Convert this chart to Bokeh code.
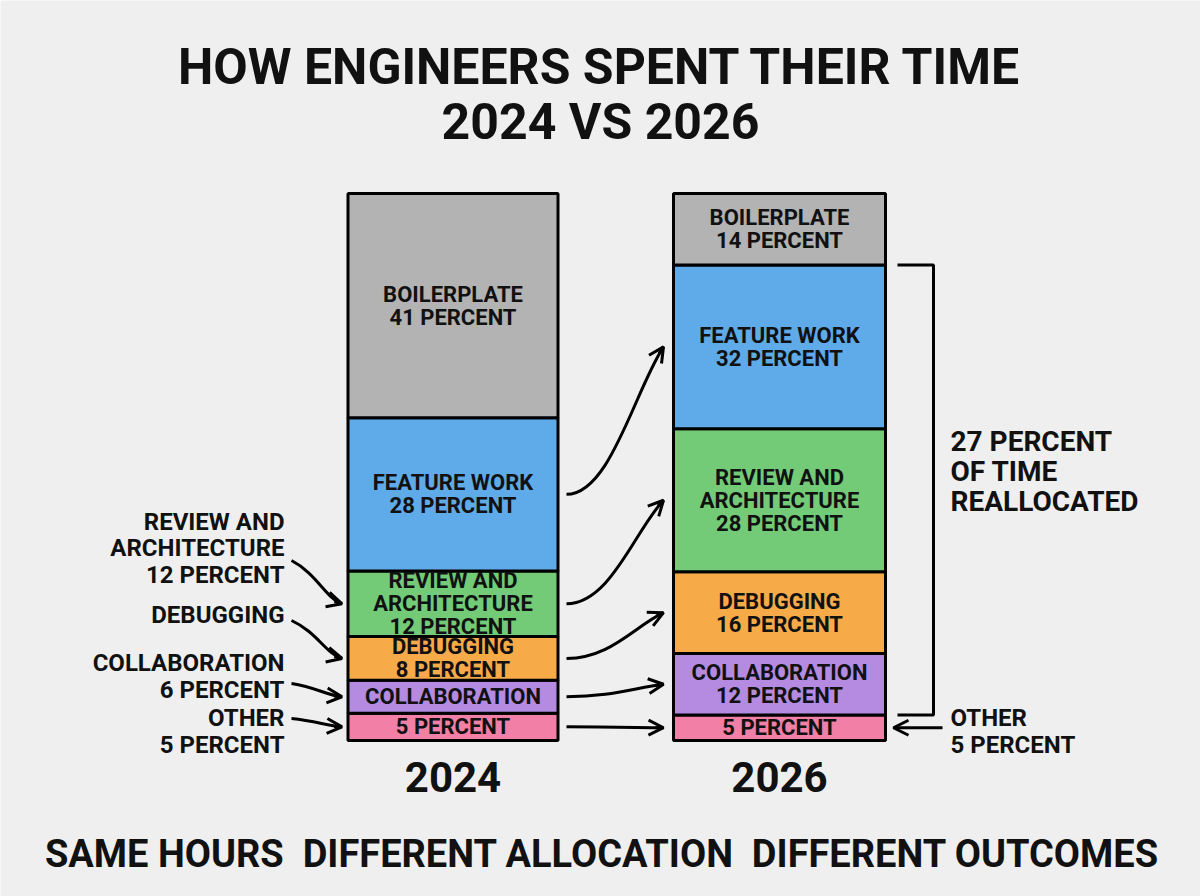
import numpy as np
from bokeh.plotting import figure
from bokeh.models import Range1d, Arrow, OpenHead, ColumnDataSource
from bokeh.core.properties import value
from bokeh.embed import file_html
from bokeh.resources import INLINE

# ---------------- data ----------------
categories = ["Other", "Collaboration", "Debugging", "Review and Architecture", "Feature Work", "Boilerplate"]
years = ["2024", "2026"]
share_2024 = [5, 6, 8, 12, 28, 41]
share_2026 = [5, 12, 16, 28, 32, 14]
seg_colors = ["#f27fa6", "#b48be0", "#f6ab48", "#73cb78", "#5faae8", "#b3b3b3"]
labels_2024 = ["5 PERCENT", "COLLABORATION", "DEBUGGING\n8 PERCENT",
               "REVIEW AND\nARCHITECTURE\n12 PERCENT", "FEATURE WORK\n28 PERCENT",
               "BOILERPLATE\n41 PERCENT"]
labels_2026 = ["5 PERCENT", "COLLABORATION\n12 PERCENT", "DEBUGGING\n16 PERCENT",
               "REVIEW AND\nARCHITECTURE\n28 PERCENT", "FEATURE WORK\n32 PERCENT",
               "BOILERPLATE\n14 PERCENT"]
left_notes = ["REVIEW AND\nARCHITECTURE\n12 PERCENT", "DEBUGGING",
              "COLLABORATION\n6 PERCENT", "OTHER\n5 PERCENT"]
bracket_note = "27 PERCENT\nOF TIME\nREALLOCATED"
right_note = "OTHER\n5 PERCENT"
title_lines = "HOW ENGINEERS SPENT THEIR TIME\n2024 VS 2026"
footer = "SAME HOURS \u00a0DIFFERENT ALLOCATION \u00a0DIFFERENT OUTCOMES"

# ---------------- layout ----------------
W, H = 1200, 896
BOT_PX, TOP_PX = 740, 193
S = (BOT_PX - TOP_PX) / 100.0
FONT = value("Roboto")
BG = "#efefef"
INK = "#111111"


def fy(py):
    return (BOT_PX - py) / S


def to_px(y):
    return BOT_PX - y * S


p = figure(width=W, height=H, x_range=Range1d(0, W), y_range=Range1d(fy(H), fy(0)),
           x_axis_location=None, y_axis_location=None, toolbar_location=None,
           output_backend="svg", min_border=0, outline_line_color=None,
           background_fill_color=BG, border_fill_color=BG)
p.grid.visible = False


def label(x, py, txt, size, align="center", lh=0.95):
    p.text(x=[x], y=[fy(py)], text=[txt], text_font=FONT, text_font_style="bold",
           text_font_size=f"{size}px", text_align=align, text_baseline="middle",
           text_line_height=lh, text_color=INK)


bars = {"2024": (452.5, 210, share_2024, labels_2024),
        "2026": (779.0, 212, share_2026, labels_2026)}
mids = {}
bounds = {}
for yr, (xc, bw, vals, labs) in bars.items():
    v = np.array(vals, dtype=float)
    v = v / v.sum() * 100.0
    top = np.cumsum(v)
    bottom = top - v
    mids[yr] = (top + bottom) / 2
    bounds[yr] = (bottom, top)
    src = ColumnDataSource(dict(x=[xc] * len(v), top=top, bottom=bottom, color=seg_colors,
                                mid=(top + bottom) / 2, label=labs))
    p.vbar(x="x", top="top", bottom="bottom", width=bw, fill_color="color",
           line_color="black", line_width=3, source=src)
    p.text(x="x", y="mid", text="label", source=src, text_font=FONT, text_font_style="bold",
           text_font_size="22px", text_align="center", text_baseline="middle",
           text_line_height=0.92, text_color=INK)
    label(xc, 776, yr, 42)

# title and footer
label(W / 2, 94, title_lines, 50, lh=0.96)
label(602, 853, footer, 38)


def arrow_head(x0, y0px, x1, y1px):
    d = np.array([x1 - x0, y1px - y0px], dtype=float)
    d = d / np.hypot(*d)
    sx, sy = x1 - d[0] * 8, y1px - d[1] * 8
    p.add_layout(Arrow(end=OpenHead(size=15, line_width=3, line_color="black"),
                       x_start=sx, y_start=fy(sy), x_end=x1, y_end=fy(y1px),
                       line_width=3, line_color="black"))


# left notes -> 2024 bar
left_idx = [3, 2, 1, 0]
left_block_px = [548, 614, 676, 731]
left_start_px = [560, 620, 683, 718]
bar_left = 452.5 - 105
for note, idx, by, sy in zip(left_notes, left_idx, left_block_px, left_start_px):
    label(284, by, note, 24, align="right", lh=0.96)
    ey = to_px(mids["2024"][idx])
    sx, ex = 291, bar_left - 6
    cx0, cy0 = sx + 0.5 * (ex - sx), sy + 0.3 * (ey - sy)
    cx1, cy1 = ex - 0.3 * (ex - sx), ey - 0.1 * (ey - sy)
    p.bezier(x0=[sx], y0=[fy(sy)], x1=[ex], y1=[fy(ey)], cx0=[cx0], cy0=[fy(cy0)],
             cx1=[cx1], cy1=[fy(cy1)], line_color="black", line_width=3)
    arrow_head(cx1, cy1, ex, ey)

# 2024 -> 2026 arrows
for idx in [4, 3, 2, 1, 0]:
    sy = to_px(mids["2024"][idx])
    ey = to_px(mids["2026"][idx])
    sx, ex = 566, 663
    dx = ex - sx
    cx0, cy0 = sx + 0.45 * dx, sy
    cx1, cy1 = ex - 0.3 * dx, ey + 0.3 * (sy - ey)
    p.bezier(x0=[sx], y0=[fy(sy)], x1=[ex], y1=[fy(ey)], cx0=[cx0], cy0=[fy(cy0)],
             cx1=[cx1], cy1=[fy(cy1)], line_color="black", line_width=3)
    arrow_head(cx1, cy1, ex, ey)

# bracket
b_bot, b_top = bounds["2026"]
by_top = b_top[4]
by_bot = b_bot[1]
p.line(x=[897, 933, 933, 897], y=[by_top, by_top, by_bot, by_bot], line_color="black",
       line_width=3)
label(950, 471, bracket_note, 28, align="left", lh=0.92)

# other 2026 note
oy = to_px(mids["2026"][0])
p.add_layout(Arrow(end=OpenHead(size=15, line_width=3, line_color="black"),
                   x_start=942, y_start=fy(oy), x_end=893, y_end=fy(oy),
                   line_width=3, line_color="black"))
label(950, 731, right_note, 24, align="left", lh=0.96)

open("out.html", "w").write(file_html(p, INLINE))
